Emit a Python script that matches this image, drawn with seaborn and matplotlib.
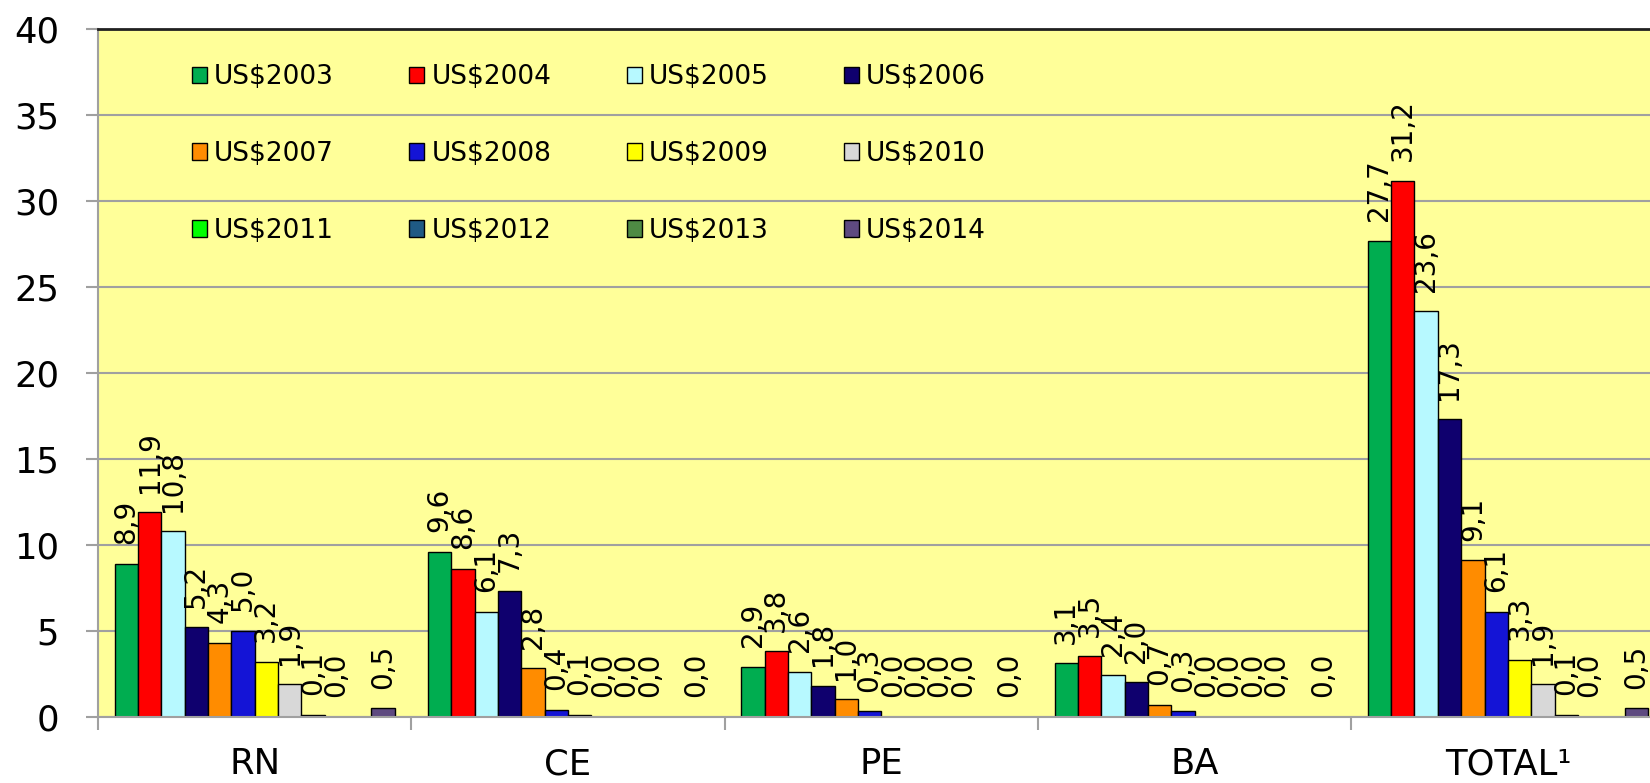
import numpy as np
import pandas as pd
import matplotlib
matplotlib.use("Agg")
import matplotlib.pyplot as plt
from matplotlib.patches import Patch
import seaborn as sns

# Data (US$ values, 2013 has no value)
categories = ["RN", "CE", "PE", "BA", "TOTAL\u00b9"]
years = ["US$2003", "US$2004", "US$2005", "US$2006", "US$2007", "US$2008",
         "US$2009", "US$2010", "US$2011", "US$2012", "US$2013", "US$2014"]

rn = [8.9, 11.9, 10.8, 5.2, 4.3, 5.0, 3.2, 1.9, 0.1, 0.0, np.nan, 0.5]
ce = [9.6, 8.6, 6.1, 7.3, 2.8, 0.4, 0.1, 0.0, 0.0, 0.0, np.nan, 0.0]
pe = [2.9, 3.8, 2.6, 1.8, 1.0, 0.3, 0.0, 0.0, 0.0, 0.0, np.nan, 0.0]
ba = [3.1, 3.5, 2.4, 2.0, 0.7, 0.3, 0.0, 0.0, 0.0, 0.0, np.nan, 0.0]
total = [27.7, 31.2, 23.6, 17.3, 9.1, 6.1, 3.3, 1.9, 0.1, 0.0, np.nan, 0.5]

colors = ["#00AD50", "#FF0000", "#B7F9FF", "#0F006E", "#FF8C00", "#1414D6",
          "#FFFF00", "#D8D8D8", "#00FF00", "#1F5A84", "#4E8A44", "#5E4A80"]

rows = []
for cat, vals in zip(categories, [rn, ce, pe, ba, total]):
    for yr, v in zip(years, vals):
        rows.append({"regiao": cat, "ano": yr, "valor": v})
df = pd.DataFrame(rows)

plt.rcParams["font.family"] = ["DejaVu Sans"]

W, H = 1650, 783
fig = plt.figure(figsize=(W / 100, H / 100), dpi=100)
ax = fig.add_axes([98 / W, 1 - 716.6 / H, 1566.5 / W, 687.2 / H])
ax.set_facecolor("#FFFF99")

sns.barplot(data=df, x="regiao", y="valor", hue="ano", order=categories,
            hue_order=years, palette=dict(zip(years, colors)), saturation=1,
            width=0.894, edgecolor="black", linewidth=1.0, errorbar=None,
            legend=False, ax=ax)

fmt = lambda v: f"{v:.1f}".replace(".", ",")
for cont in ax.containers:
    ax.bar_label(cont, fmt=fmt, rotation=90, padding=14, fontsize=20)

ax.set_xlim(-0.5, 4.5)
ax.set_ylim(0, 40)
ax.set_yticks(np.arange(0, 41, 5))
ax.yaxis.grid(True, color="#A0A0A0", linewidth=1.5)
ax.set_axisbelow(True)
ax.set_xlabel("")
ax.set_ylabel("")

ax.tick_params(axis="y", labelsize=25.5, length=9, width=1.5, color="#A0A0A0",
               pad=19, direction="out")
ax.tick_params(axis="x", which="major", labelsize=25.5, length=0, pad=22)
ax.set_xticks(np.arange(-0.5, 5.0, 1.0), minor=True)
ax.tick_params(axis="x", which="minor", length=9, width=1.5, color="#A0A0A0",
               direction="out")

for side in ["left", "bottom"]:
    ax.spines[side].set_color("#A0A0A0")
    ax.spines[side].set_linewidth(1.5)
ax.spines["top"].set_color("#202020")
ax.spines["top"].set_linewidth(2)
ax.spines["right"].set_visible(False)

# legend: 3 rows x 4 columns filled row by row
handles = [Patch(facecolor=c, edgecolor="black", linewidth=1.0) for c in colors]
order = [0, 4, 8, 1, 5, 9, 2, 6, 10, 3, 7, 11]
fig.legend([handles[i] for i in order], [years[i] for i in order], ncol=4,
           loc="upper left", bbox_to_anchor=(192 / W, 1 - 64 / H),
           frameon=False, fontsize=19, handlelength=0.57, handleheight=0.57,
           handletextpad=0.27, columnspacing=2.85, labelspacing=1.93,
           borderpad=0, borderaxespad=0)

fig.savefig("out.png", dpi=100)
